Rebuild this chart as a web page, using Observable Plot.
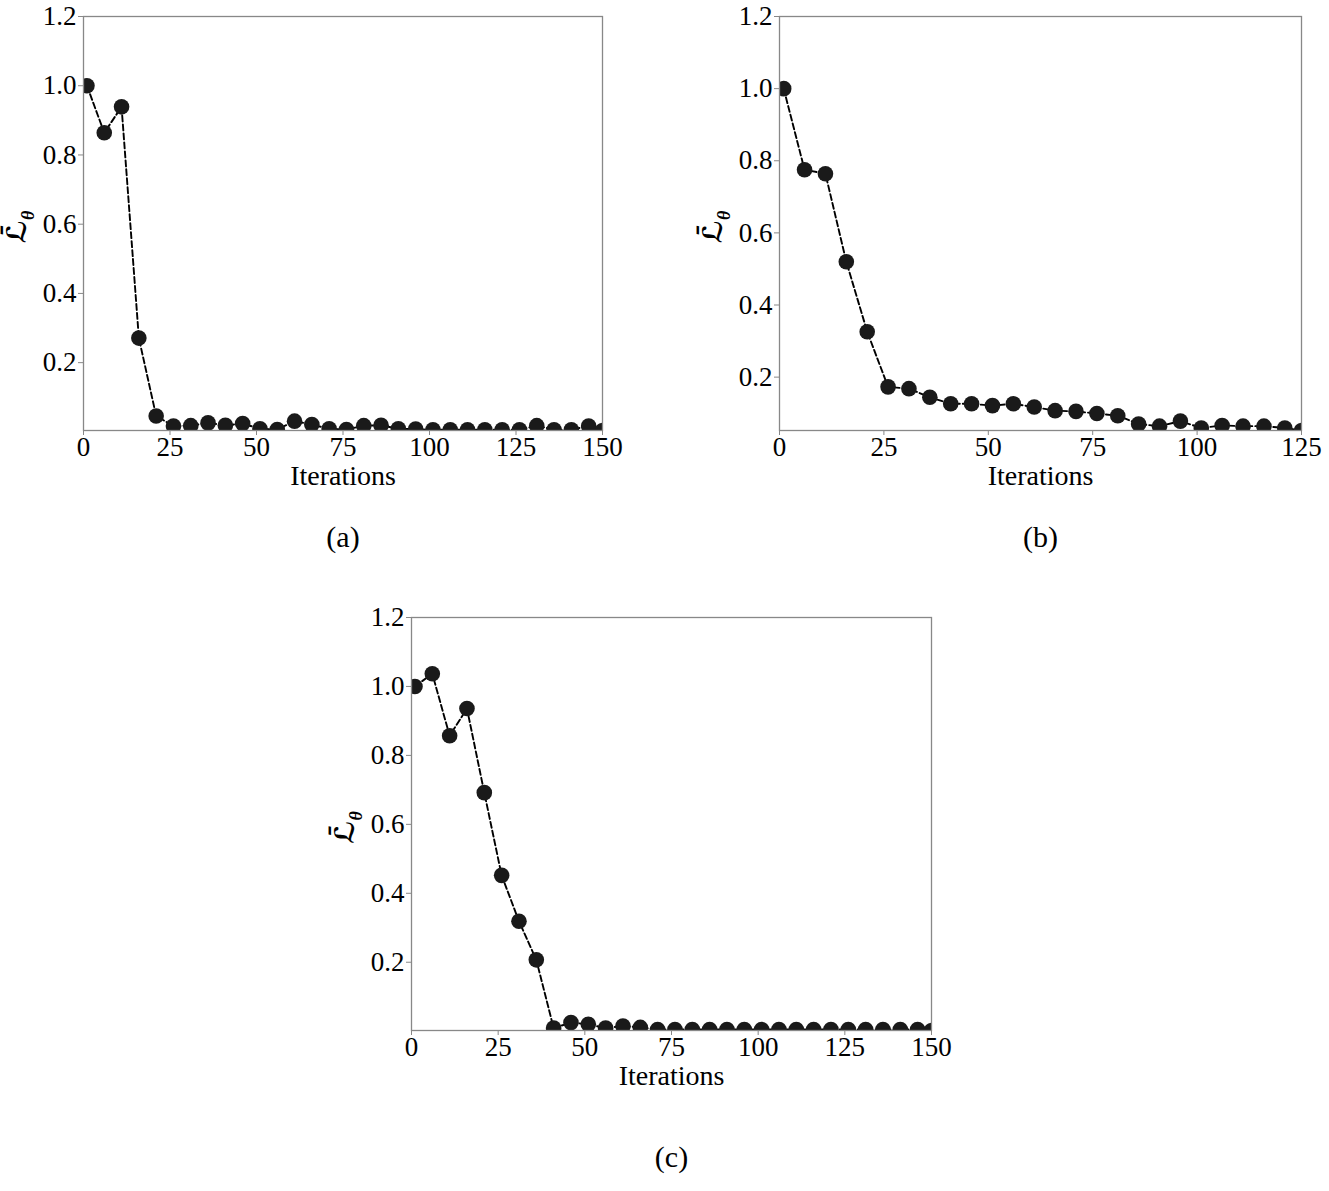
<!DOCTYPE html>
<html><head><meta charset="utf-8">
<script src="https://cdn.jsdelivr.net/npm/d3@7"></script>
<script src="https://cdn.jsdelivr.net/npm/@observablehq/plot@0.6"></script>
<style>
body{margin:0;background:#fff;width:1329px;height:1191px;position:relative;overflow:hidden;font-family:"Liberation Serif","Times New Roman",serif}
.panel{position:absolute}
</style></head><body>
<div id="pa" class="panel" style="left:0px;top:0px"></div>
<div id="pb" class="panel" style="left:696px;top:0px"></div>
<div id="pc" class="panel" style="left:328px;top:601px"></div>
<script>
// ---- data ----
const iterA = [1,6,11,16,21,26,31,36,41,46,51,56,61,66,71,76,81,86,91,96,101,106,111,116,121,126,131,136,141,146,150];
const lossA = [1.0,0.864,0.939,0.271,0.046,0.017,0.018,0.026,0.019,0.024,0.009,0.007,0.031,0.021,0.009,0.007,0.018,0.019,0.009,0.008,0.006,0.006,0.006,0.006,0.006,0.006,0.018,0.006,0.006,0.017,0.004];

const iterB = [1,6,11,16,21,26,31,36,41,46,51,56,61,66,71,76,81,86,91,96,101,106,111,116,121,125];
const lossB = [1.0,0.775,0.764,0.520,0.326,0.173,0.168,0.144,0.126,0.126,0.121,0.126,0.117,0.107,0.105,0.099,0.093,0.070,0.064,0.078,0.059,0.066,0.064,0.064,0.059,0.052];

const iterC = [1,6,11,16,21,26,31,36,41,46,51,56,61,66,71,76,81,86,91,96,101,106,111,116,121,126,131,136,141,146,150];
const lossC = [1.0,1.037,0.857,0.936,0.692,0.452,0.319,0.207,0.009,0.025,0.020,0.009,0.015,0.011,0.005,0.005,0.005,0.005,0.005,0.005,0.005,0.005,0.005,0.005,0.005,0.005,0.005,0.005,0.005,0.005,0.002];

const xTicks150 = [0,25,50,75,100,125,150];
const xTicks125 = [0,25,50,75,100,125];
const yTicks = [0.2,0.4,0.6,0.8,1.0,1.2];
const xLabel = "Iterations";
const captions = ["(a)","(b)","(c)"];

const serif = "'Liberation Serif','Times New Roman',serif";

function drawPanel(cfg) {
  const data = cfg.iters.map((x, i) => ({x, y: cfg.loss[i]}));
  const yMin = d3.min(cfg.loss);
  const chart = Plot.plot({
    width: cfg.width, height: cfg.height,
    marginLeft: cfg.mL, marginTop: cfg.mT, marginRight: cfg.mR, marginBottom: cfg.mB,
    style: {fontFamily: serif, fontSize: "27px", color: "black", background: "white", overflow: "visible"},
    x: {domain: [0, cfg.xMax]},
    y: {domain: [yMin, 1.2]},
    marks: [
      Plot.axisX(cfg.xTicks, {tickSize: 5, tickPadding: 1, stroke: "#888", fill: "black", label: null, fontSize: 27, fontFamily: serif}),
      Plot.axisY(yTicks, {tickSize: 5, tickPadding: 2, stroke: "#888", fill: "black", label: null, fontSize: 27, fontFamily: serif, tickFormat: d3.format(".1f")}),
      Plot.line(data, {x: "x", y: "y", stroke: "black", strokeWidth: 1.9, strokeDasharray: "6,3", clip: true}),
      Plot.dot(data, {x: "x", y: "y", r: 7.8, fill: "#1a1a1a", stroke: "none", clip: true}),
      Plot.frame({stroke: "#888", strokeWidth: 1.3}),
      Plot.text([xLabel], {text: d => d, frameAnchor: "bottom", lineAnchor: "bottom", dy: 54, fontSize: 28, fontFamily: serif, fill: "black"}),
      Plot.text([cfg.caption], {text: d => d, frameAnchor: "bottom", lineAnchor: "bottom", dy: cfg.captionDy, fontSize: 30, fontFamily: serif, fill: "black"})
    ]
  });
  // y-axis label: L-bar with subscript theta
  const svg = d3.select(chart);
  const cy = cfg.mT + (cfg.height - cfg.mT - cfg.mB) / 2;
  const t = svg.append("text")
    .attr("transform", `translate(${cfg.mL - 57},${cy + 4}) rotate(-90)`)
    .attr("text-anchor", "middle")
    .attr("fill", "black")
    .style("font-family", "'DejaVu Sans',sans-serif");
  t.append("tspan").attr("font-size", 27).attr("font-style", "italic").attr("font-weight", "bold")
    .text("\u2112\u0304");
  t.append("tspan").attr("font-size", 18).attr("font-style", "italic").attr("font-weight", "bold")
    .style("font-family", serif).attr("dy", 8).text("\u03b8");
  document.getElementById(cfg.el).appendChild(chart);
}

drawPanel({el: "pa", width: 640, height: 560, mL: 83, mT: 16, mR: 38, mB: 130,
  iters: iterA, loss: lossA, xMax: 150, xTicks: xTicks150, caption: captions[0], captionDy: 116});
drawPanel({el: "pb", width: 633, height: 560, mL: 83, mT: 16, mR: 28, mB: 130,
  iters: iterB, loss: lossB, xMax: 125, xTicks: xTicks125, caption: captions[1], captionDy: 116});
drawPanel({el: "pc", width: 640, height: 590, mL: 83, mT: 16, mR: 37, mB: 161,
  iters: iterC, loss: lossC, xMax: 150, xTicks: xTicks150, caption: captions[2], captionDy: 136});
</script>
</body></html>
